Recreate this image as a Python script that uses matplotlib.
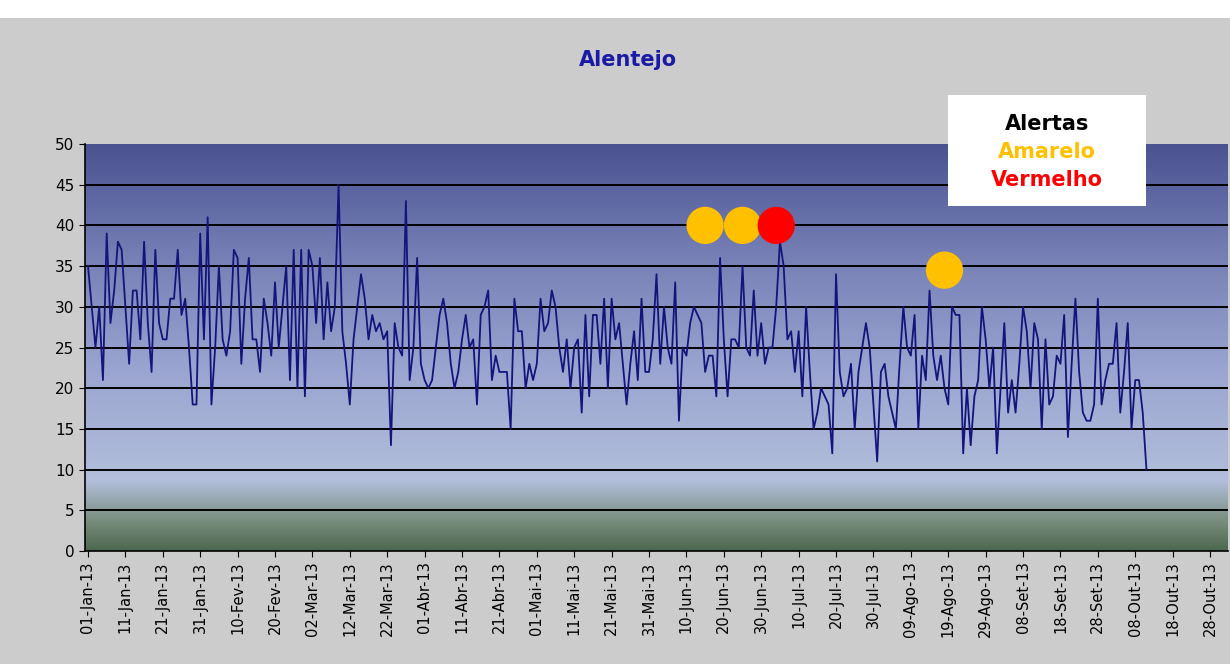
import numpy as np
import pandas as pd
import matplotlib
matplotlib.use("Agg")
import matplotlib.pyplot as plt
from matplotlib.colors import LinearSegmentedColormap
from matplotlib.patches import Rectangle

# daily values, starting 01-Jan-13
values = [
    35, 30, 25, 30, 21, 39, 28, 32, 38, 37, 30, 23, 32, 32, 26, 38, 28, 22, 37, 28,
    26, 26, 31, 31, 37, 29, 31, 25, 18, 18, 39, 26, 41, 18, 25, 35, 26, 24, 27, 37,
    36, 23, 31, 36, 26, 26, 22, 31, 28, 24, 33, 25, 30, 35, 21, 37, 20, 37, 19, 37,
    35, 28, 36, 26, 33, 27, 30, 45, 27, 23, 18, 26, 30, 34, 31, 26, 29, 27, 28, 26,
    27, 13, 28, 25, 24, 43, 21, 25, 36, 23, 21, 20, 21, 25, 29, 31, 28, 23, 20, 22,
    26, 29, 25, 26, 18, 29, 30, 32, 21, 24, 22, 22, 22, 15, 31, 27, 27, 20, 23, 21,
    23, 31, 27, 28, 32, 30, 25, 22, 26, 20, 25, 26, 17, 29, 19, 29, 29, 23, 31, 20,
    31, 26, 28, 23, 18, 23, 27, 21, 31, 22, 22, 26, 34, 23, 30, 25, 23, 33, 16, 25,
    24, 28, 30, 29, 28, 22, 24, 24, 19, 36, 26, 19, 26, 26, 25, 35, 25, 24, 32, 24,
    28, 23, 25, 25, 30, 38, 35, 26, 27, 22, 27, 19, 30, 22, 15, 17, 20, 19, 18, 12,
    34, 22, 19, 20, 23, 15, 22, 25, 28, 25, 18, 11, 22, 23, 19, 17, 15, 23, 30, 25,
    24, 29, 15, 24, 21, 32, 24, 21, 24, 20, 18, 30, 29, 29, 12, 20, 13, 19, 21, 30,
    26, 20, 25, 12, 20, 28, 17, 21, 17, 23, 30, 27, 20, 28, 26, 15, 26, 18, 19, 24,
    23, 29, 14, 23, 31, 22, 17, 16, 16, 18, 31, 18, 21, 23, 23, 28, 17, 22, 28, 15,
    21, 21, 17, 10,
]

alert_dates = ["2013-06-15", "2013-06-25", "2013-07-04", "2013-08-18"]
alert_values = [40, 40, 40, 34.5]
alert_colors = ["#ffc000", "#ffc000", "#ff0000", "#ffc000"]

months_pt = ["Jan", "Fev", "Mar", "Abr", "Mai", "Jun", "Jul", "Ago", "Set", "Out", "Nov", "Dez"]

start = pd.Timestamp("2013-01-01")
days = np.arange(len(values))
alert_days = [(pd.Timestamp(d) - start).days for d in alert_dates]
tick_days = np.arange(0, 301, 10)
tick_labels = []
for d in tick_days:
    t = start + pd.Timedelta(days=int(d))
    tick_labels.append(f"{t.day:02d}-{months_pt[t.month - 1]}-13")

fig = plt.figure(figsize=(12.3, 6.64), dpi=100, facecolor="#cccccc")
fig.patches.append(Rectangle((0, 1 - 18 / 664), 1, 18 / 664, transform=fig.transFigure,
                             facecolor="white", edgecolor="none", zorder=0))

ax = fig.add_axes([85 / 1230, 1 - 551 / 664, 1143 / 1230, 407 / 664])

# background gradient (Excel style)
cmap = LinearSegmentedColormap.from_list("bg", [
    (0.0, "#4d684f"), (0.08, "#7c9184"), (0.17, "#b2bedb"),
    (0.45, "#9aa4d0"), (0.75, "#727cb2"), (1.0, "#4a5290")])
grad = np.linspace(0, 1, 256).reshape(-1, 1)
ax.imshow(grad, cmap=cmap, origin="lower", aspect="auto",
          extent=[0, 1, 0, 1], transform=ax.transAxes, zorder=0)

for yv in range(5, 50, 5):
    ax.axhline(yv, color="black", lw=1.4, zorder=1)

ax.plot(days, values, color="#14147a", lw=1.3, zorder=2)
ax.scatter(alert_days, alert_values, s=720, c=alert_colors, edgecolors="none", zorder=3)

ax.set_xlim(-0.8, 304.8)
ax.set_ylim(0, 50)
ax.set_yticks(range(0, 51, 5))
ax.set_xticks(tick_days)
ax.set_xticklabels(tick_labels, rotation=90, fontsize=10.5)
ax.tick_params(axis="y", labelsize=11, length=4, direction="out")
ax.tick_params(axis="x", length=4, direction="out")
for s in ["top", "right"]:
    ax.spines[s].set_visible(False)
ax.spines["left"].set_linewidth(1.2)
ax.spines["bottom"].set_linewidth(1.2)

fig.text(628 / 1230, 1 - 60 / 664, "Alentejo", color="#1a1aa6", fontsize=15,
         fontweight="bold", ha="center", va="center")

# legend box
fig.patches.append(Rectangle((948 / 1230, 1 - 206 / 664), 198 / 1230, 111 / 664,
                             transform=fig.transFigure, facecolor="white",
                             edgecolor="none", zorder=5))
for txt, col, yp in [("Alertas", "black", 124), ("Amarelo", "#ffc000", 152),
                     ("Vermelho", "#ff0000", 180)]:
    fig.text(1047 / 1230, 1 - yp / 664, txt, color=col, fontsize=15, fontweight="bold",
             ha="center", va="center", zorder=6)

fig.savefig("out.png", dpi=100, facecolor=fig.get_facecolor())
